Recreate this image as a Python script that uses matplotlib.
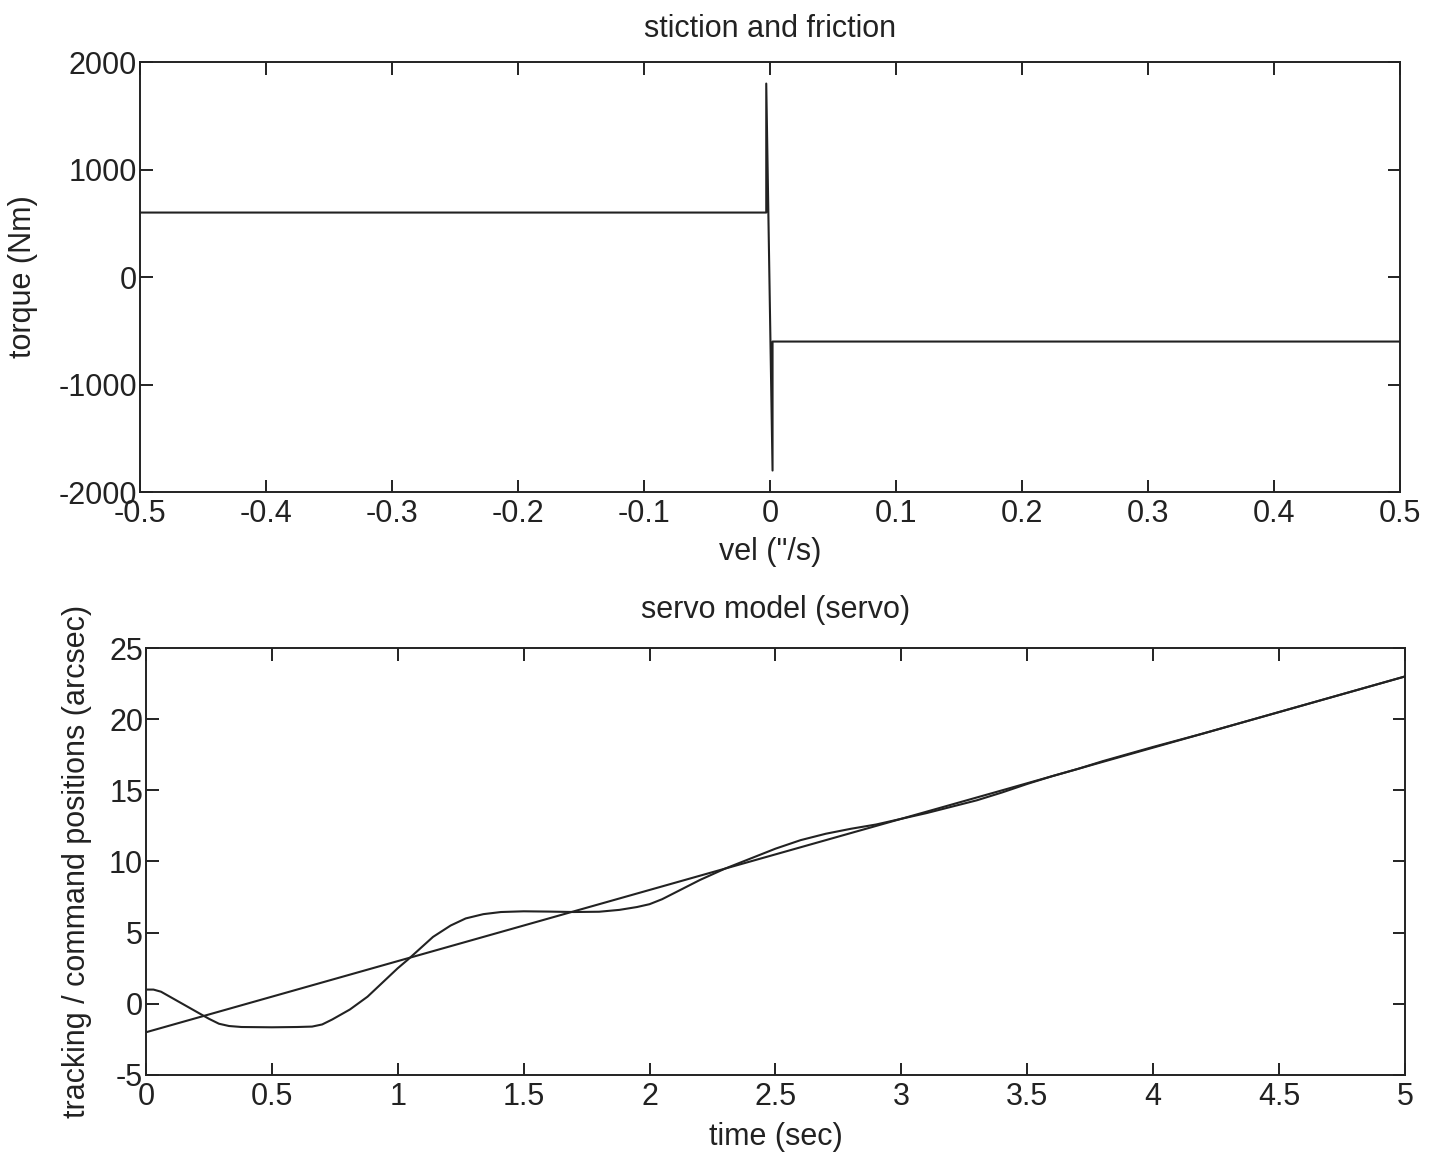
import matplotlib
matplotlib.use("Agg")
import matplotlib.pyplot as plt
from matplotlib.ticker import FormatStrFormatter

plt.rcParams['font.family'] = ['Liberation Sans', 'DejaVu Sans']
plt.rcParams['axes.unicode_minus'] = False

# friction curve: torque vs velocity (stiction spike at zero)
vel = [-0.5, -0.003, -0.003, 0.002, 0.002, 0.5]
torque = [600, 600, 1800, -1800, -600, -600]

# servo response: command ramp and tracked position
t_cmd = [0.0, 5.0]
cmd = [-2.0, 23.0]

t_trk = [0.0, 0.03, 0.06, 0.1, 0.15, 0.2, 0.25, 0.29, 0.33, 0.38, 0.5, 0.6,
         0.66, 0.7, 0.74, 0.81, 0.88, 0.94, 1.0, 1.04, 1.09, 1.14, 1.21,
         1.27, 1.34, 1.41, 1.5, 1.6, 1.7, 1.8, 1.88, 1.95, 2.0, 2.05, 2.1,
         2.2, 2.3, 2.4, 2.5, 2.6, 2.7, 2.8, 2.9, 3.0, 3.1, 3.2, 3.3, 3.4,
         3.5, 3.6, 3.7, 3.8, 3.9, 4.0, 4.2, 4.5, 5.0]
trk = [1.0, 1.0, 0.85, 0.45, -0.05, -0.55, -1.05, -1.4, -1.56, -1.63, -1.65,
       -1.63, -1.6, -1.45, -1.1, -0.4, 0.5, 1.5, 2.5, 3.1, 3.9, 4.7, 5.5,
       6.0, 6.3, 6.45, 6.5, 6.48, 6.45, 6.47, 6.6, 6.8, 7.0, 7.35, 7.8,
       8.7, 9.5, 10.2, 10.9, 11.5, 11.95, 12.3, 12.6, 13.0, 13.4, 13.85,
       14.3, 14.85, 15.45, 16.0, 16.5, 17.05, 17.55, 18.05, 19.0, 20.5, 23.0]

ink = '#222222'
fs = 22

fig = plt.figure(figsize=(14.42, 11.58), dpi=100)
ax1 = fig.add_axes([0.0971, 0.5751, 0.8738, 0.3713])
ax2 = fig.add_axes([0.1012, 0.0717, 0.8731, 0.3687])

for ax in (ax1, ax2):
    for s in ax.spines.values():
        s.set_linewidth(1.4)
        s.set_color(ink)
    ax.tick_params(direction='in', top=True, right=True, length=9,
                   width=1.4, color=ink, labelsize=fs, labelcolor=ink)
    ax.tick_params(axis='x', pad=5)
    ax.tick_params(axis='y', pad=2)

ax1.plot(vel, torque, color=ink, lw=1.5)
ax1.set_xlim(-0.5, 0.5)
ax1.set_ylim(-2000, 2000)
ax1.set_xticks([-0.5, -0.4, -0.3, -0.2, -0.1, 0, 0.1, 0.2, 0.3, 0.4, 0.5])
ax1.set_yticks([-2000, -1000, 0, 1000, 2000])
ax1.xaxis.set_major_formatter(FormatStrFormatter('%g'))
ax1.set_title('stiction and friction', fontsize=fs, color=ink, pad=0, y=1.058)
ax1.set_xlabel('vel ("/s)', fontsize=fs, color=ink)
ax1.set_ylabel('torque (Nm)', fontsize=fs, color=ink)
ax1.xaxis.set_label_coords(0.5, -0.105)
ax1.yaxis.set_label_coords(-0.081, 0.5)

ax2.plot(t_cmd, cmd, color=ink, lw=1.5)
ax2.plot(t_trk, trk, color=ink, lw=1.5)
ax2.set_xlim(0, 5)
ax2.set_ylim(-5, 25)
ax2.set_xticks([0, 0.5, 1, 1.5, 2, 2.5, 3, 3.5, 4, 4.5, 5])
ax2.set_yticks([-5, 0, 5, 10, 15, 20, 25])
ax2.xaxis.set_major_formatter(FormatStrFormatter('%g'))
ax2.set_title('servo model (servo)', fontsize=fs, color=ink, pad=0, y=1.070)
ax2.set_xlabel('time (sec)', fontsize=fs, color=ink)
ax2.set_ylabel('tracking / command positions (arcsec)', fontsize=fs, color=ink)
ax2.xaxis.set_label_coords(0.5, -0.11)
ax2.yaxis.set_label_coords(-0.043, 0.5)

fig.savefig('out.png', dpi=100)
